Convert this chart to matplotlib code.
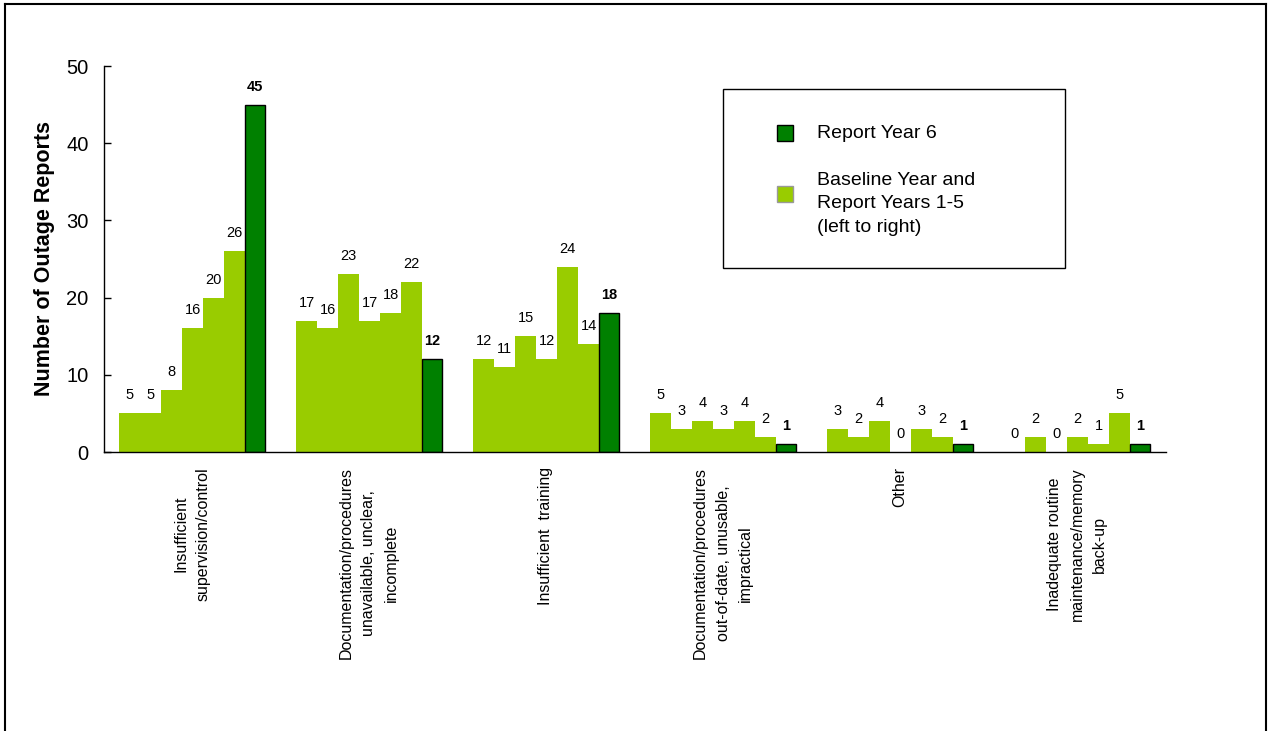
import matplotlib.pyplot as plt
from matplotlib.patches import Rectangle
from matplotlib.lines import Line2D

plt.rcParams['font.family'] = ['Liberation Sans', 'DejaVu Sans']

categories = [
    "Insufficient\nsupervision/control",
    "Documentation/procedures\nunavailable, unclear,\nincomplete",
    "Insufficient  training",
    "Documentation/procedures\nout-of-date, unusable,\nimpractical",
    "Other",
    "Inadequate routine\nmaintenance/memory\nback-up",
]
# baseline year + report years 1-5, one row per category
earlier_years = [
    [5, 5, 8, 16, 20, 26],
    [17, 16, 23, 17, 18, 22],
    [12, 11, 15, 12, 24, 14],
    [5, 3, 4, 3, 4, 2],
    [3, 2, 4, 0, 3, 2],
    [0, 2, 0, 2, 1, 5],
]
year6 = [45, 12, 18, 1, 1, 1]

light = "#99CC00"
dark = "#008000"

W, H = 1268, 731
fig = plt.figure(figsize=(W / 100, H / 100), dpi=100)


def fx(px):
    return px / W


def fy(py):
    return 1 - py / H


ax = fig.add_axes([fx(104), fy(452), fx(1166) - fx(104), fy(66) - fy(452)])

period = 177 / 21
dark_w = 0.95
centers = []
for g, (vals, v6) in enumerate(zip(earlier_years, year6)):
    x0 = g * period
    xs = [x0 + i for i in range(len(vals))]
    ax.bar(xs, vals, width=1.0, align='edge', color=light, linewidth=0)
    ax.bar(x0 + 6, v6, width=dark_w, align='edge', color=dark,
           edgecolor='black', linewidth=1.0)
    for x, v in zip(xs, vals):
        ax.annotate(str(v), (x + 0.5, v), xytext=(0, 13), textcoords='offset points',
                    ha='center', va='center', fontsize=10.5)
    ax.annotate(str(v6), (x0 + 6 + dark_w / 2, v6), xytext=(0, 13),
                textcoords='offset points', ha='center', va='center',
                fontsize=10.5, fontweight='bold')
    centers.append(x0 + (6 + dark_w) / 2)

ax.set_xlim(-15 / 21, 5 * period + 6 + dark_w + 16 / 21)
ax.set_ylim(0, 50)
ax.set_yticks(range(0, 51, 10))
ax.tick_params(axis='y', direction='in', length=5, width=1, pad=11, labelsize=14.5)
ax.set_xticks(centers)
ax.set_xticklabels(categories, rotation=90, fontsize=11.5, ha='center', va='top',
                   linespacing=1.65)
ax.tick_params(axis='x', length=0, pad=11)
for side in ('top', 'right'):
    ax.spines[side].set_visible(False)
ax.spines['left'].set_linewidth(1.0)
ax.spines['bottom'].set_linewidth(1.0)
ax.set_ylabel("Number of Outage Reports", fontsize=15.5, fontweight='bold', labelpad=8)

# legend drawn by hand
fig.patches.append(Rectangle((fx(723), fy(268)), fx(1065) - fx(723), fy(89) - fy(268),
                             transform=fig.transFigure, facecolor='white',
                             edgecolor='black', linewidth=1.0))
fig.patches.append(Rectangle((fx(777), fy(141)), fx(16), fy(125) - fy(141),
                             transform=fig.transFigure, facecolor=dark,
                             edgecolor='black', linewidth=1.0))
fig.patches.append(Rectangle((fx(777), fy(202)), fx(16), fy(186) - fy(202),
                             transform=fig.transFigure, facecolor=light,
                             edgecolor='#999999', linewidth=1.0))
fig.text(fx(817), fy(133), "Report Year 6", fontsize=14, va='center', ha='left')
fig.text(fx(817), fy(172), "Baseline Year and\nReport Years 1-5\n(left to right)",
         fontsize=14, va='top', ha='left', linespacing=1.5)

# outer frame
for xs_, ys_ in [((5, 5), (4, 731)), ((5, 1266), (4, 4)), ((1266, 1266), (4, 731))]:
    fig.lines.append(Line2D([fx(x) for x in xs_], [fy(y) for y in ys_],
                            transform=fig.transFigure, color='black', linewidth=1.5))

fig.savefig("out.png", dpi=100)
